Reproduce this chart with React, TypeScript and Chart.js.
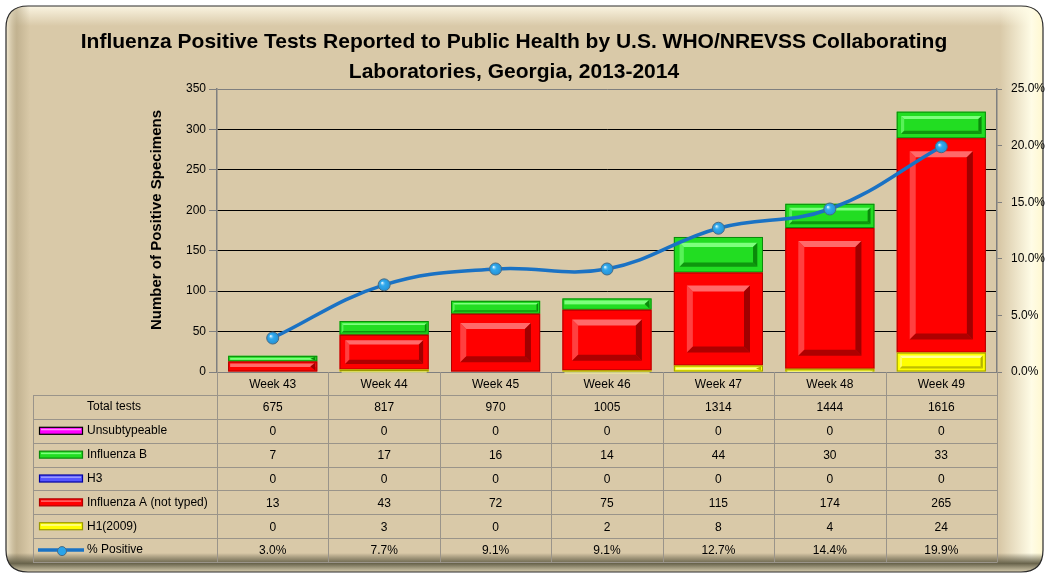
import React, { useEffect, useRef } from 'react';
import { Chart, registerables } from 'chart.js';
Chart.register(...registerables);

const categories = ['Week 43', 'Week 44', 'Week 45', 'Week 46', 'Week 47', 'Week 48', 'Week 49'];
const totalTests = [675, 817, 970, 1005, 1314, 1444, 1616];
const unsubtypeable = [0, 0, 0, 0, 0, 0, 0];
const influenzaB = [7, 17, 16, 14, 44, 30, 33];
const h3 = [0, 0, 0, 0, 0, 0, 0];
const influenzaA = [13, 43, 72, 75, 115, 174, 265];
const h1 = [0, 3, 0, 2, 8, 4, 24];
const pctPositive = [3.0, 7.7, 9.1, 9.1, 12.7, 14.4, 19.9];
const leftMax = 350;
const leftStep = 50;
const rightMax = 25;
const rightStep = 5;
const titleLines = [
  'Influenza Positive Tests Reported to Public Health by U.S. WHO/NREVSS Collaborating',
  'Laboratories, Georgia, 2013-2014',
];
const yTitle = 'Number of Positive Specimens';

const BG = '#d9c9a8';
const FONT = '"Liberation Sans", Arial, sans-serif';
const TITLE_FONT = '"Liberation Sans", Arial, sans-serif';

type Sty = { fill: string; light: string; dark: string; edge: string };
const styles: Record<string, Sty> = {
  h1: { fill: '#ffff00', light: '#ffff99', dark: '#b3b300', edge: '#9a9a00' },
  a: { fill: '#ff0000', light: '#ff6a6a', dark: '#a00000', edge: '#b00000' },
  h3: { fill: '#5555ff', light: '#9999ff', dark: '#0000a0', edge: '#0000a0' },
  b: { fill: '#22dd22', light: '#7dff7d', dark: '#0a8a0a', edge: '#0a8a0a' },
  u: { fill: '#ff00ff', light: '#ff88ff', dark: '#800080', edge: '#000000' },
};

function roundRect(ctx: CanvasRenderingContext2D, x: number, y: number, w: number, h: number, r: number) {
  ctx.beginPath();
  ctx.moveTo(x + r, y);
  ctx.lineTo(x + w - r, y);
  ctx.quadraticCurveTo(x + w, y, x + w, y + r);
  ctx.lineTo(x + w, y + h - r);
  ctx.quadraticCurveTo(x + w, y + h, x + w - r, y + h);
  ctx.lineTo(x + r, y + h);
  ctx.quadraticCurveTo(x, y + h, x, y + h - r);
  ctx.lineTo(x, y + r);
  ctx.quadraticCurveTo(x, y, x + r, y);
  ctx.closePath();
}

const framePlugin = {
  id: 'frame',
  beforeDraw(chart: any) {
    const ctx: CanvasRenderingContext2D = chart.ctx;
    const W = chart.width, H = chart.height;
    ctx.save();
    ctx.fillStyle = '#ffffff';
    ctx.fillRect(0, 0, W, H);
    const x0 = 6, y0 = 6, w = W - 11, h = H - 9;
    roundRect(ctx, x0, y0, w, h, 22);
    ctx.save();
    ctx.clip();
    ctx.fillStyle = BG;
    ctx.fillRect(0, 0, W, H);
    let g = ctx.createLinearGradient(0, y0, 0, y0 + 20);
    g.addColorStop(0, 'rgba(250,244,225,1)');
    g.addColorStop(1, 'rgba(250,244,225,0)');
    ctx.fillStyle = g;
    ctx.fillRect(0, 0, W, y0 + 20);
    g = ctx.createLinearGradient(x0, 0, x0 + 24, 0);
    g.addColorStop(0, 'rgba(245,236,212,1)');
    g.addColorStop(0.45, 'rgba(175,160,125,0.55)');
    g.addColorStop(1, 'rgba(175,160,125,0)');
    ctx.fillStyle = g;
    ctx.fillRect(0, 0, x0 + 24, H);
    g = ctx.createLinearGradient(W - 48, 0, W - 6, 0);
    g.addColorStop(0, 'rgba(255,252,230,0)');
    g.addColorStop(0.75, 'rgba(255,252,230,1)');
    g.addColorStop(1, 'rgba(255,248,210,1)');
    ctx.fillStyle = g;
    ctx.fillRect(W - 48, 0, 48, H);
    g = ctx.createLinearGradient(0, 553, 0, H - 3);
    g.addColorStop(0, 'rgba(90,86,66,0)');
    g.addColorStop(0.55, 'rgba(105,100,76,1)');
    g.addColorStop(1, 'rgba(215,205,175,1)');
    ctx.fillStyle = g;
    ctx.fillRect(0, 553, W, H - 553);
    ctx.restore();
    roundRect(ctx, x0, y0, w, h, 22);
    ctx.strokeStyle = '#2a2a2a';
    ctx.lineWidth = 1.2;
    ctx.stroke();

    ctx.fillStyle = '#000';
    ctx.textAlign = 'center';
    ctx.textBaseline = 'middle';
    ctx.font = 'bold 21px ' + TITLE_FONT;
    ctx.fillText(titleLines[0], 514, 42);
    ctx.fillText(titleLines[1], 514, 72);

    ctx.save();
    ctx.translate(157, 220);
    ctx.rotate(-Math.PI / 2);
    ctx.font = 'bold 15px ' + TITLE_FONT;
    ctx.fillText(yTitle, 0, 0);
    ctx.restore();
    ctx.restore();
  },
};

const bevelPlugin = {
  id: 'bevel',
  afterDatasetDraw(chart: any, args: any) {
    const ds = chart.data.datasets[args.index];
    if (ds.type === 'line') return;
    const st: Sty = styles[ds.styleKey];
    const ctx: CanvasRenderingContext2D = chart.ctx;
    const meta = args.meta;
    ctx.save();
    meta.data.forEach((el: any) => {
      const left = el.x - el.width / 2;
      const right = el.x + el.width / 2;
      const top = Math.min(el.y, el.base);
      const bot = Math.max(el.y, el.base);
      const h = bot - top;
      const w = right - left;
      if (h < 1) return;
      ctx.strokeStyle = st.edge;
      ctx.lineWidth = 1;
      ctx.strokeRect(left + 0.5, top + 0.5, w - 1, h - 1);
      if (h < 12) {
        ctx.fillStyle = st.light;
        ctx.fillRect(left + 2, top + 2, w - 4, Math.max(1, h * 0.35));
        ctx.fillStyle = st.dark;
        ctx.beginPath();
        ctx.moveTo(right - 2, top + 1);
        ctx.lineTo(right - 2, bot - 1);
        ctx.lineTo(right - 2 - Math.min(5, h), top + h / 2);
        ctx.closePath();
        ctx.fill();
        return;
      }
      const d = Math.min(13, h * 0.16);
      const b = Math.min(6, h * 0.12);
      const ix0 = left + d, ix1 = right - d, iy0 = top + d, iy1 = bot - d;
      ctx.fillStyle = st.light;
      ctx.beginPath();
      ctx.moveTo(ix0, iy0); ctx.lineTo(ix1, iy0); ctx.lineTo(ix1 - b, iy0 + b); ctx.lineTo(ix0 + b, iy0 + b);
      ctx.closePath(); ctx.fill();
      ctx.globalAlpha = 0.6;
      ctx.beginPath();
      ctx.moveTo(ix0, iy0); ctx.lineTo(ix0 + b, iy0 + b); ctx.lineTo(ix0 + b, iy1 - b); ctx.lineTo(ix0, iy1);
      ctx.closePath(); ctx.fill();
      ctx.globalAlpha = 1;
      ctx.fillStyle = st.dark;
      ctx.beginPath();
      ctx.moveTo(ix1, iy0); ctx.lineTo(ix1, iy1); ctx.lineTo(ix1 - b, iy1 - b); ctx.lineTo(ix1 - b, iy0 + b);
      ctx.closePath(); ctx.fill();
      ctx.globalAlpha = 0.85;
      ctx.beginPath();
      ctx.moveTo(ix0, iy1); ctx.lineTo(ix1, iy1); ctx.lineTo(ix1 - b, iy1 - b); ctx.lineTo(ix0 + b, iy1 - b);
      ctx.closePath(); ctx.fill();
      ctx.globalAlpha = 1;
    });
    ctx.restore();
  },
};

const tablePlugin = {
  id: 'table',
  afterDatasetsDraw(chart: any) {
    const ctx: CanvasRenderingContext2D = chart.ctx;
    const area = chart.chartArea;
    const n = categories.length;
    const colW = (area.right - area.left) / n;
    const headTop = area.bottom;
    const rowTop = 395;
    const rowH = 23.86;
    const rows = 7;
    const tableLeft = 33;
    const tableBottom = rowTop + rows * rowH;
    ctx.save();
    const lineIdx = chart.data.datasets.findIndex((d: any) => d.type === 'line');
    const lm = chart.getDatasetMeta(lineIdx);
    lm.data.forEach((p: any) => {
      const g = ctx.createRadialGradient(p.x - 2, p.y - 2, 0.5, p.x, p.y, 6);
      g.addColorStop(0, 'rgba(220,245,255,0.95)');
      g.addColorStop(0.4, 'rgba(60,175,240,0.2)');
      g.addColorStop(1, 'rgba(20,90,150,0.3)');
      ctx.fillStyle = g;
      ctx.beginPath();
      ctx.arc(p.x, p.y, 5.5, 0, Math.PI * 2);
      ctx.fill();
    });

    ctx.strokeStyle = '#9a948a';
    ctx.lineWidth = 1;
    for (let r = 0; r <= rows; r++) {
      const y = Math.round(rowTop + r * rowH) + 0.5;
      ctx.beginPath();
      ctx.moveTo(tableLeft, y);
      ctx.lineTo(area.right, y);
      ctx.stroke();
    }
    ctx.beginPath();
    ctx.moveTo(tableLeft + 0.5, rowTop);
    ctx.lineTo(tableLeft + 0.5, Math.round(tableBottom) + 0.5);
    ctx.stroke();
    for (let i = 0; i <= n; i++) {
      const x = Math.round(area.left + i * colW) + 0.5;
      ctx.beginPath();
      ctx.moveTo(x, headTop);
      ctx.lineTo(x, Math.round(tableBottom) + 0.5);
      ctx.stroke();
    }
    ctx.fillStyle = '#000';
    ctx.font = '12px ' + FONT;
    ctx.textAlign = 'center';
    ctx.textBaseline = 'middle';
    categories.forEach((c, i) => {
      ctx.fillText(c, area.left + (i + 0.5) * colW, (headTop + rowTop) / 2 + 1);
    });
    const rowData: { label: string; vals: string[]; key?: string; line?: boolean }[] = [
      { label: 'Total tests', vals: totalTests.map(String) },
      { label: 'Unsubtypeable', vals: unsubtypeable.map(String), key: 'u' },
      { label: 'Influenza B', vals: influenzaB.map(String), key: 'b' },
      { label: 'H3', vals: h3.map(String), key: 'h3' },
      { label: 'Influenza A (not typed)', vals: influenzaA.map(String), key: 'a' },
      { label: 'H1(2009)', vals: h1.map(String), key: 'h1' },
      { label: '% Positive', vals: pctPositive.map((v) => v.toFixed(1) + '%'), line: true },
    ];
    rowData.forEach((row, r) => {
      const cy = rowTop + (r + 0.5) * rowH;
      ctx.textAlign = 'left';
      ctx.fillStyle = '#000';
      ctx.fillText(row.label, 87, cy);
      if (row.key) {
        const st = styles[row.key];
        ctx.fillStyle = st.fill;
        ctx.fillRect(39, cy - 3.5, 44, 7);
        ctx.strokeStyle = st.edge;
        ctx.lineWidth = 1.2;
        ctx.strokeRect(39.5, cy - 3.5, 43, 7);
        ctx.fillStyle = st.light;
        ctx.fillRect(41, cy - 2, 40, 1.5);
      }
      if (row.line) {
        ctx.strokeStyle = '#1a72c4';
        ctx.lineWidth = 3.5;
        ctx.beginPath();
        ctx.moveTo(38, cy);
        ctx.lineTo(84, cy);
        ctx.stroke();
        ctx.fillStyle = '#2aa4ea';
        ctx.strokeStyle = '#4a6a80';
        ctx.lineWidth = 1;
        ctx.beginPath();
        ctx.arc(62, cy + 1, 4.5, 0, Math.PI * 2);
        ctx.fill();
        ctx.stroke();
      }
      ctx.fillStyle = '#000';
      ctx.textAlign = 'center';
      row.vals.forEach((v, i) => {
        ctx.fillText(v, area.left + (i + 0.5) * colW, cy + 1);
      });
    });
    ctx.restore();
  },
};

export default function App() {
  const ref = useRef<HTMLCanvasElement | null>(null);
  useEffect(() => {
    if (!ref.current) return;
    const mkBar = (label: string, data: number[], key: string) => ({
      type: 'bar' as const,
      label,
      data,
      styleKey: key,
      backgroundColor: styles[key].fill,
      borderWidth: 0,
      yAxisID: 'y',
      stack: 's',
      order: 1,
      categoryPercentage: 1,
      barPercentage: 0.8,
    });
    const chart = new Chart(ref.current, {
      type: 'bar',
      data: {
        labels: categories,
        datasets: [
          mkBar('H1(2009)', h1, 'h1'),
          mkBar('Influenza A (not typed)', influenzaA, 'a'),
          mkBar('H3', h3, 'h3'),
          mkBar('Influenza B', influenzaB, 'b'),
          mkBar('Unsubtypeable', unsubtypeable, 'u'),
          {
            type: 'line' as const,
            label: '% Positive',
            data: pctPositive,
            yAxisID: 'y1',
            order: 0,
            borderColor: '#1a72c4',
            borderWidth: 3.5,
            tension: 0.4,
            pointRadius: 6,
            pointBackgroundColor: '#2aa4ea',
            pointBorderColor: '#4a6a80',
            pointBorderWidth: 1,
          } as any,
        ] as any,
      },
      options: {
        animation: false,
        responsive: false,
        devicePixelRatio: 1,
        layout: { padding: { top: 89, bottom: 203, left: 0, right: 0 } },
        plugins: { legend: { display: false }, tooltip: { enabled: false }, title: { display: false } },
        scales: {
          x: { display: false, stacked: true, offset: true },
          y: {
            position: 'left',
            stacked: true,
            min: 0,
            max: leftMax,
            afterFit: (s: any) => { s.width = 217; },
            ticks: { stepSize: leftStep, color: '#000', font: { family: FONT, size: 12 }, padding: 3 },
            grid: {
              color: (c: any) => (c.tick && (c.tick.value === leftMax || c.tick.value === 0) ? '#7f7f7f' : '#000000'),
              lineWidth: 1,
              tickLength: 8,
              tickColor: '#7f7f7f',
            },
            border: { display: true, color: '#7f7f7f', width: 1.5 },
          },
          y1: {
            position: 'right',
            min: 0,
            max: rightMax,
            afterFit: (s: any) => { s.width = 51; },
            ticks: {
              stepSize: rightStep,
              color: '#000',
              font: { family: FONT, size: 12 },
              padding: 9,
              callback: (v: any) => Number(v).toFixed(1) + '%',
            },
            grid: { drawOnChartArea: false, tickLength: 5, tickColor: '#7f7f7f' },
            border: { display: true, color: '#7f7f7f', width: 1.5 },
          },
        },
      } as any,
      plugins: [framePlugin, bevelPlugin, tablePlugin],
    });
    return () => chart.destroy();
  }, []);
  return (
    <div style={{ position: 'fixed', left: 0, top: 0, width: 1048, height: 575 }}>
      <canvas ref={ref} width={1048} height={575} style={{ width: 1048, height: 575, display: 'block' }} />
    </div>
  );
}
